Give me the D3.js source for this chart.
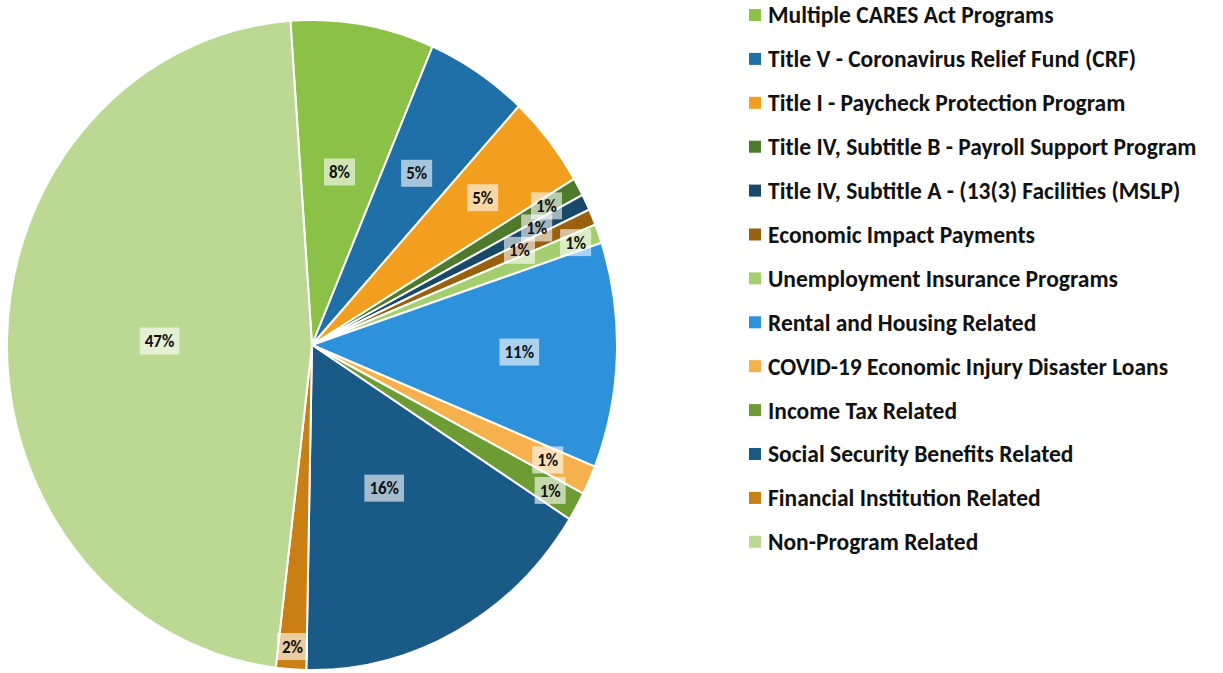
<!DOCTYPE html>
<html>
<head>
<meta charset="utf-8">
<script src="https://cdnjs.cloudflare.com/ajax/libs/d3/7.8.5/d3.min.js"></script>
<style>
  body { margin: 0; background: #fff; }
  text { font-family: Carlito, Lato, "Liberation Sans", sans-serif; font-weight: bold; }
</style>
</head>
<body>
<div id="chart"></div>
<script>
// Data
const categories = [
    "Multiple CARES Act Programs",
    "Title V - Coronavirus Relief Fund (CRF)",
    "Title I - Paycheck Protection Program",
    "Title IV, Subtitle B - Payroll Support Program",
    "Title IV, Subtitle A - (13(3) Facilities (MSLP)",
    "Economic Impact Payments",
    "Unemployment Insurance Programs",
    "Rental and Housing Related",
    "COVID-19 Economic Injury Disaster Loans",
    "Income Tax Related",
    "Social Security Benefits Related",
    "Financial Institution Related",
    "Non-Program Related"
];
const shares = [7.6, 5.4, 4.6, 0.9, 0.8, 0.8, 0.95, 11.2, 1.45, 1.45, 16.3, 1.6, 47.0];
const colors = ["#8bc147", "#1f6fa8", "#f29e1f", "#4e7a2b", "#184968", "#98600f", "#a4cf6e",
                "#2d91dc", "#f6b14d", "#6c9c33", "#1a5a87", "#c97f14", "#bcd993"];

// Layout
const width = 1223;
const height = 673;
const cx = 312, cy = 345;
const rx = 305, ry = 325;
const startAngle = -4.06 * Math.PI / 180;
// how far out along each slice the percent label sits (fraction of radius)
const labelRadius = [0.54, 0.63, 0.72, 0.88, 0.82, 0.74, 0.92, 0.68, 0.85, 0.90, 0.50, 0.93, 0.50];

const svg = d3.select("#chart").append("svg")
    .attr("width", width)
    .attr("height", height);

const pie = d3.pie()
    .sort(null)
    .value(d => d)
    .startAngle(startAngle)
    .endAngle(startAngle + 2 * Math.PI);

const arcs = pie(shares);
const total = d3.sum(shares);

const arc = d3.arc().innerRadius(0).outerRadius(ry);

// Slices (pie is slightly squashed horizontally)
svg.append("g")
    .attr("transform", `translate(${cx},${cy}) scale(${rx / ry},1)`)
    .selectAll("path")
    .data(arcs)
    .enter().append("path")
    .attr("d", arc)
    .attr("fill", (d, i) => colors[i])
    .attr("stroke", "#fff")
    .attr("stroke-width", 2)
    .attr("vector-effect", "non-scaling-stroke");

// Percent labels with translucent boxes
const labels = svg.append("g").selectAll("g")
    .data(arcs)
    .enter().append("g")
    .attr("transform", (d, i) => {
        const a = (d.startAngle + d.endAngle) / 2;
        const f = labelRadius[i];
        return `translate(${cx + rx * f * Math.sin(a)},${cy - ry * f * Math.cos(a)})`;
    });

labels.append("text")
    .attr("text-anchor", "middle")
    .attr("dy", "0.36em")
    .style("font-size", "17px")
    .attr("fill", "#111")
    .text(d => Math.round(d.value / total * 100) + "%");

labels.each(function() {
    const g = d3.select(this);
    const bb = g.select("text").node().getBBox();
    g.insert("rect", "text")
        .attr("x", bb.x - 5)
        .attr("y", -13.5)
        .attr("width", bb.width + 10)
        .attr("height", 27)
        .attr("fill", "#fff")
        .attr("fill-opacity", 0.6);
});

// Legend
const legend = svg.append("g")
    .attr("transform", "translate(749,15)")
    .selectAll("g")
    .data(categories)
    .enter().append("g")
    .attr("transform", (d, i) => `translate(0,${i * 43.9})`);

legend.append("rect")
    .attr("x", 0)
    .attr("y", -6)
    .attr("width", 12)
    .attr("height", 12)
    .attr("fill", (d, i) => colors[i]);

legend.append("text")
    .attr("x", 19)
    .attr("dy", "0.36em")
    .style("font-size", "23.5px")
    .attr("fill", "#111")
    .text(d => d);
</script>
</body>
</html>
